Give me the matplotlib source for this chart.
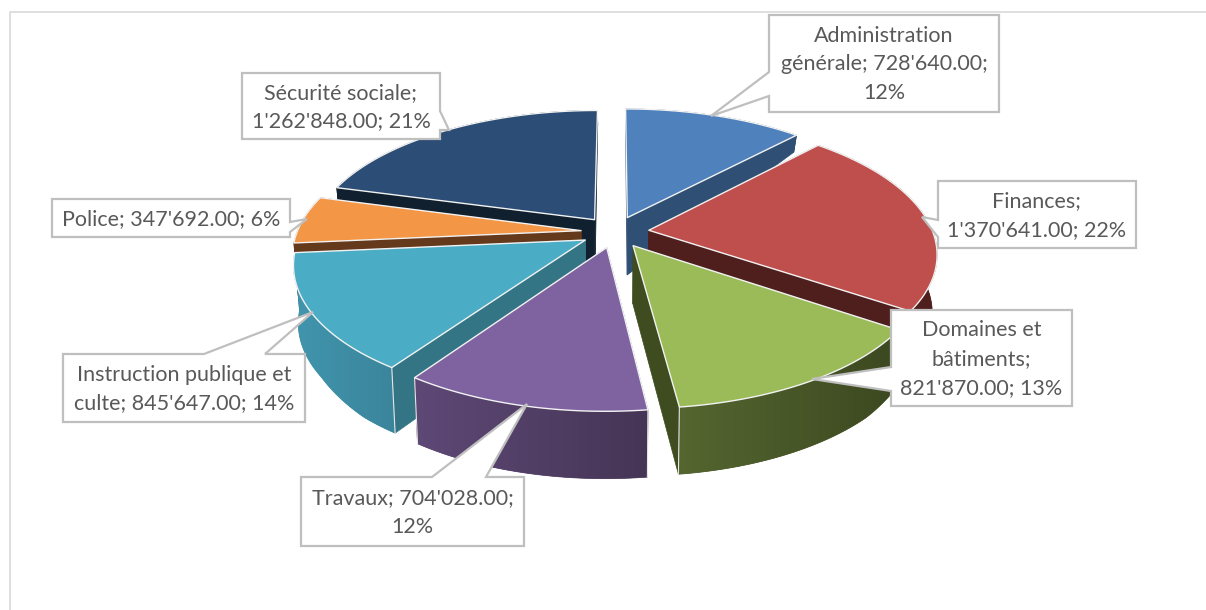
import matplotlib
matplotlib.use("Agg")
import matplotlib.pyplot as plt
import numpy as np
from matplotlib.patches import Polygon

plt.rcParams["font.family"] = ["Lato", "DejaVu Sans"]

# dados do grafico
categorias = ["Administration", "Finances", "Domaines et bâtiments", "Travaux",
              "Instruction publique et culte", "Police", "Sécurité sociale"]
valores = [728640, 1370641, 821870, 704028, 845647, 347692, 1262848]
rotulos = ["Administration\ngénérale; 728'640.00;\n12%",
           "Finances;\n1'370'641.00; 22%",
           "Domaines et\nbâtiments;\n821'870.00; 13%",
           "Travaux; 704'028.00;\n12%",
           "Instruction publique et\nculte; 845'647.00; 14%",
           "Police; 347'692.00; 6%",
           "Sécurité sociale;\n1'262'848.00; 21%"]

cores_topo = ["#4F81BD", "#BE4F4C", "#9BBB59", "#7F63A1", "#4AACC5", "#F39645", "#2C4D75"]
cores_lado = ["#2F4F75", "#4F1F1E", "#3E4C20", "#5E4876", "#347585", "#653A1C", "#10202F"]
cores_aro_a = ["#2F4F75", "#4F1F1E", "#3C4820", "#453555", "#3B859C", "#653A1C", "#10202F"]
cores_aro_b = ["#2F4F75", "#4F1F1E", "#556630", "#5E4876", "#4095AD", "#653A1C", "#10202F"]
ordem = [0, 6, 1, 5, 4, 2, 3]

# caixas dos rotulos: x0, y0, x1, y1, ponta e base da seta
caixas = [
    (769, 15, 999, 112, (711, 116), [(769, 72), (769, 96)]),
    (938, 181, 1136, 248, (922, 217), [(938, 220), (938, 237)]),
    (891, 310, 1072, 406, (812, 379), [(891, 367), (891, 391)]),
    (301, 477, 524, 546, (527, 404), [(432, 477), (486, 477)]),
    (63, 354, 305, 422, (313, 312), [(204, 354), (265, 354)]),
    (52, 199, 290, 237, (307, 219), [(290, 222), (290, 232)]),
    (242, 73, 440, 139, (449, 130), [(440, 111), (440, 130)]),
]

cx, cy, rx, ry, persp, explosao = 615, 232, 284, 131, 0.165, 0.12
prof_v = [-1.2, -0.8, -0.6, 0.1, 0.84, 1.2]
prof_d = [68, 65, 58, 58, 17, 13]


def projeta(u, v):
    w = 1 + persp * v
    return cx + rx * u / w, cy - ry * v / w


def fundo(u, v):
    x, y = projeta(u, v)
    return x - 0.015 * (x - cx), y + np.interp(v, prof_v, prof_d)


fig = plt.figure(figsize=(12.06, 6.10), dpi=100)
ax = fig.add_axes([0, 0, 1, 1])

ax.plot([10, 10, 1206], [610, 12, 12], color="#D9D9D9", lw=1.2)

angulos = np.concatenate([[0], np.cumsum(valores)]) / np.sum(valores) * 2 * np.pi

z = 2
for i in ordem:
    a0, a1 = angulos[i], angulos[i + 1]
    meio = (a0 + a1) / 2
    eu, ev = explosao * np.sin(meio), explosao * np.cos(meio)
    t = np.linspace(a0, a1, 60)
    us = np.sin(t) + eu
    vs = np.cos(t) + ev
    xt, yt = projeta(us, vs)
    xb, yb = fundo(us, vs)
    xa, ya = projeta(eu, ev)
    xab, yab = fundo(eu, ev)

    # faces radiais
    for k in [0, -1]:
        ax.add_patch(Polygon([(xa, ya), (xt[k], yt[k]), (xb[k], yb[k]), (xab, yab)],
                             fc=cores_lado[i], ec=cores_lado[i], lw=0.5, zorder=z))
    z += 1
    # aro externo com gradiente
    ca = np.array(matplotlib.colors.to_rgb(cores_aro_a[i]))
    cb = np.array(matplotlib.colors.to_rgb(cores_aro_b[i]))
    aro = np.vstack([np.column_stack([xt, yt]), np.column_stack([xb, yb])[::-1]])
    fc_aro = tuple((ca + cb) / 2)
    ax.add_patch(Polygon(aro, fc=fc_aro, ec=fc_aro, lw=0.5, zorder=z))
    z += 1
    grad = np.linspace(0, 1, 128)[None, :, None]
    img = ax.imshow(cb + (ca - cb) * grad, aspect="auto", zorder=z,
                    extent=(aro[:, 0].min(), aro[:, 0].max(), aro[:, 1].max(), aro[:, 1].min()))
    img.set_clip_path(Polygon(aro, transform=ax.transData))
    z += 1
    # aresta vertical clara
    for k in [0, -1]:
        if yt[k] > 300:
            ax.plot([xt[k], xb[k]], [yt[k], yb[k]], color="#E6E6E6", lw=0.8, zorder=z)
    z += 1
    # topo
    ax.add_patch(Polygon(np.vstack([[xa, ya], np.column_stack([xt, yt])]),
                         fc=cores_topo[i], ec="#F2F2F2", lw=1.0, joinstyle="round", zorder=z))
    z += 1

for rotulo, (x0, y0, x1, y1, ponta, base) in zip(rotulos, caixas):
    # contorno da caixa com a seta, na ordem do perimetro
    b0, b1 = base
    if b0[0] == x0:  # seta a esquerda
        pts = [(x0, y0), (x1, y0), (x1, y1), (x0, y1), b1, ponta, b0]
    elif b0[0] == x1:  # seta a direita
        pts = [(x0, y0), (x1, y0), b0, ponta, b1, (x1, y1), (x0, y1)]
    else:  # seta em cima ou embaixo
        if b0[1] == y0:
            pts = [(x0, y0), b0, ponta, b1, (x1, y0), (x1, y1), (x0, y1)]
        else:
            pts = [(x0, y0), (x1, y0), (x1, y1), b1, ponta, b0, (x0, y1)]
    ax.add_patch(Polygon(pts, fc="white", ec="#BFBFBF", lw=1.6, joinstyle="miter", zorder=z))
    ax.text((x0 + x1) / 2, (y0 + y1) / 2 + 1, rotulo, ha="center", va="center",
            fontsize=15.5, color="#595959", linespacing=1.55, zorder=z + 1)

ax.set_xlim(0, 1206)
ax.set_ylim(610, 0)
ax.axis("off")

fig.savefig("out.png", dpi=100)
